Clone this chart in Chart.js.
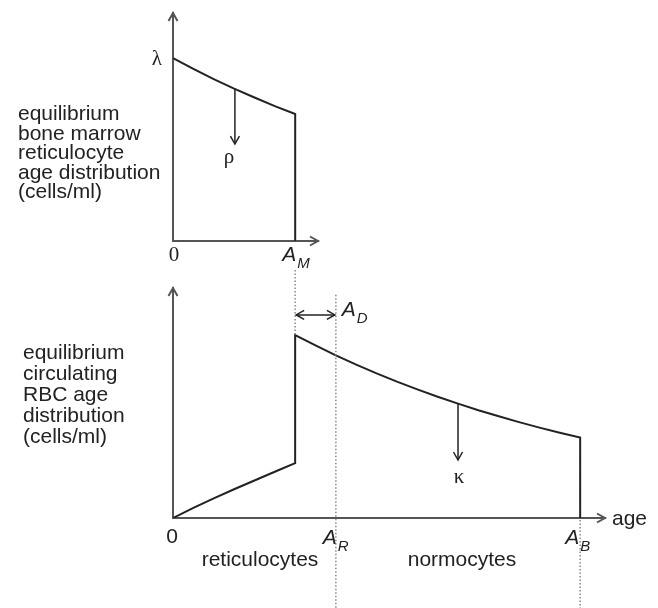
<!DOCTYPE html>
<html>
<head>
<meta charset="utf-8">
<script src="https://cdn.jsdelivr.net/npm/chart.js@4.4.1/dist/chart.umd.min.js"></script>
<style>
  html, body { margin: 0; padding: 0; background: #fff; }
  #wrap { position: relative; width: 658px; height: 608px; }
  #wrap canvas { position: absolute; left: 0; }
</style>
</head>
<body>
<div id="wrap">
  <canvas id="marrow" width="658" height="270" style="top:0px"></canvas>
  <canvas id="circ" width="658" height="338" style="top:270px"></canvas>
</div>
<script>
// ---- data (arbitrary age / density units) ----
const A_M = 3;   // maximal marrow reticulocyte age
const A_D = 1;   // delay
const A_R = 4;   // reticulocyte age limit (A_M + A_D)
const A_B = 10;  // maximal RBC age

const marrowAges    = [0, 0.5, 1, 1.5, 2, 2.5, 3];
const marrowDensity = [1.0, 0.941, 0.885, 0.833, 0.784, 0.737, 0.694];

const retAges    = [0, 0.5, 1, 1.5, 2, 2.5, 3];
const retDensity = [0, 0.055, 0.107, 0.157, 0.205, 0.253, 0.30];

const circAges    = [3, 3.5, 4, 4.5, 5, 5.5, 6, 6.5, 7, 7.5, 8, 8.5, 9, 9.5, 10];
const circDensity = [1.0, 0.943, 0.889, 0.838, 0.790, 0.745, 0.703, 0.663, 0.625, 0.589, 0.556, 0.524, 0.494, 0.466, 0.440];

const topLabelLines = ['equilibrium', 'bone marrow', 'reticulocyte', 'age distribution', '(cells/ml)'];
const botLabelLines = ['equilibrium', 'circulating', 'RBC age', 'distribution', '(cells/ml)'];

const rhoAge = 1.52;
const kappaAge = 7.0;

// ---- styles ----
const SANS = '"Liberation Sans", Arial, Helvetica, sans-serif';
const SERIF = '"Liberation Serif", "Times New Roman", serif';
const INK = '#222';
const AXIS = '#555';
const DOT = '#8a8a8a';

function interp(xs, ys, v) {
  for (let i = 0; i < xs.length - 1; i++) {
    if (v >= xs[i] && v <= xs[i + 1]) {
      const t = (v - xs[i]) / (xs[i + 1] - xs[i]);
      return ys[i] + t * (ys[i + 1] - ys[i]);
    }
  }
  return ys[ys.length - 1];
}

function pts(xs, ys) { return xs.map((x, i) => ({ x, y: ys[i] })); }

// ---- drawing helpers ----
function seg(ctx, x1, y1, x2, y2, color, width, dash) {
  ctx.save();
  ctx.strokeStyle = color; ctx.lineWidth = width;
  ctx.setLineDash(dash || []);
  ctx.beginPath(); ctx.moveTo(x1, y1); ctx.lineTo(x2, y2); ctx.stroke();
  ctx.restore();
}
function head(ctx, tx, ty, dx, dy, color, width) {
  const len = 8, half = 4.5;
  const px = -dy, py = dx;
  ctx.save();
  ctx.strokeStyle = color; ctx.lineWidth = width; ctx.lineJoin = 'miter';
  ctx.beginPath();
  ctx.moveTo(tx - dx * len + px * half, ty - dy * len + py * half);
  ctx.lineTo(tx, ty);
  ctx.lineTo(tx - dx * len - px * half, ty - dy * len - py * half);
  ctx.stroke();
  ctx.restore();
}
function txt(ctx, s, x, y, font, align, base) {
  ctx.save();
  ctx.fillStyle = INK; ctx.font = font;
  ctx.textAlign = align || 'left'; ctx.textBaseline = base || 'alphabetic';
  ctx.fillText(s, x, y);
  ctx.restore();
}
function subLabel(ctx, main, sub, xJoin, yMid) {
  txt(ctx, main, xJoin, yMid, 'italic 21px ' + SANS, 'right', 'middle');
  txt(ctx, sub, xJoin + 1, yMid + 9, 'italic 15px ' + SANS, 'left', 'middle');
}
function axisHeads(chart) {
  const a = chart.chartArea, ctx = chart.ctx;
  head(ctx, a.left, a.top, 0, -1, AXIS, 2);
  head(ctx, a.right, a.bottom, 1, 0, AXIS, 2);
}

function baseOptions(xmax, ymax, pad) {
  const axisCommon = {
    type: 'linear', min: 0,
    ticks: { display: false },
    grid: { display: false, drawTicks: false },
    border: { display: true, color: AXIS, width: 2 }
  };
  return {
    responsive: false, animation: false, events: [],
    layout: { padding: pad },
    plugins: { legend: { display: false }, tooltip: { enabled: false } },
    scales: {
      x: Object.assign({}, axisCommon, { max: xmax }),
      y: Object.assign({}, axisCommon, { max: ymax })
    }
  };
}

// ---- top chart: bone marrow reticulocytes ----
new Chart(document.getElementById('marrow'), {
  type: 'line',
  data: {
    datasets: [{
      data: pts(marrowAges, marrowDensity).concat([{ x: A_M, y: 0 }]),
      borderColor: INK, borderWidth: 2, pointRadius: 0, tension: 0, fill: false
    }]
  },
  options: baseOptions(3.56, 1.246, { left: 173, right: 340, top: 13, bottom: 29 }),
  plugins: [{
    id: 'marrowNotes',
    afterDraw(chart) {
      const ctx = chart.ctx, xs = chart.scales.x, ys = chart.scales.y;
      const X = v => xs.getPixelForValue(v), Y = v => ys.getPixelForValue(v);
      axisHeads(chart);
      // lambda
      txt(ctx, 'λ', X(0) - 11, Y(marrowDensity[0]) + 1, '21px ' + SERIF, 'right', 'middle');
      // rho arrow
      const r0 = interp(marrowAges, marrowDensity, rhoAge);
      seg(ctx, X(rhoAge), Y(r0), X(rhoAge), Y(0.53), INK, 1.5);
      head(ctx, X(rhoAge), Y(0.53), 0, 1, INK, 1.5);
      txt(ctx, 'ρ', X(rhoAge) - 6, Y(0.455), '21px ' + SERIF, 'center', 'middle');
      // axis labels
      txt(ctx, '0', X(0) + 1, Y(0) + 14, '21px ' + SERIF, 'center', 'middle');
      subLabel(ctx, 'A', 'M', X(A_M) + 1, Y(0) + 14);
      // left description
      topLabelLines.forEach((s, i) => txt(ctx, s, 18, 120 + i * 19.6, '21px ' + SANS, 'left', 'alphabetic'));
    }
  }]
});

// ---- bottom chart: circulating RBCs ----
new Chart(document.getElementById('circ'), {
  type: 'line',
  data: {
    datasets: [{
      data: pts(retAges, retDensity).concat(pts(circAges, circDensity)).concat([{ x: A_B, y: 0 }]),
      borderColor: INK, borderWidth: 2, pointRadius: 0, tension: 0, fill: false
    }]
  },
  options: baseOptions(10.61, 1.257, { left: 173, right: 53, top: 18, bottom: 90 }),
  plugins: [{
    id: 'circNotes',
    afterDraw(chart) {
      const ctx = chart.ctx, xs = chart.scales.x, ys = chart.scales.y;
      const X = v => xs.getPixelForValue(v), Y = v => ys.getPixelForValue(v);
      const H = chart.height;
      axisHeads(chart);
      // dotted guides
      seg(ctx, X(A_M), 0, X(A_M), Y(circDensity[0]), DOT, 1.5, [1.5, 2]);
      seg(ctx, X(A_R), Y(1.22), X(A_R), H, DOT, 1.5, [1.5, 2]);
      seg(ctx, X(A_B), Y(0) + 2, X(A_B), H, DOT, 1.5, [1.5, 2]);
      // A_D double arrow
      const yd = Y(1.11);
      seg(ctx, X(A_M) + 1, yd, X(A_R) - 1, yd, INK, 1.5);
      head(ctx, X(A_M) + 1, yd, -1, 0, INK, 1.5);
      head(ctx, X(A_R) - 1, yd, 1, 0, INK, 1.5);
      subLabel(ctx, 'A', 'D', X(A_R) + 20, yd - 5);
      // kappa arrow
      const k0 = interp(circAges, circDensity, kappaAge);
      seg(ctx, X(kappaAge), Y(k0), X(kappaAge), Y(0.317), INK, 1.5);
      head(ctx, X(kappaAge), Y(0.317), 0, 1, INK, 1.5);
      txt(ctx, 'κ', X(kappaAge) + 1, Y(0.219), '21px ' + SERIF, 'center', 'middle');
      // axis labels
      txt(ctx, '0', X(0) - 1, Y(0) + 19, '21px ' + SANS, 'center', 'middle');
      subLabel(ctx, 'A', 'R', X(A_R) + 1, Y(0) + 20);
      subLabel(ctx, 'A', 'B', X(A_B) - 1, Y(0) + 20);
      txt(ctx, 'age', xs.right + 7, Y(0) + 7, '21px ' + SANS, 'left', 'alphabetic');
      txt(ctx, 'reticulocytes', 260, Y(0) + 48, '21px ' + SANS, 'center', 'alphabetic');
      txt(ctx, 'normocytes', 462, Y(0) + 48, '21px ' + SANS, 'center', 'alphabetic');
      // left description
      botLabelLines.forEach((s, i) => txt(ctx, s, 23, 89 + i * 21, '21px ' + SANS, 'left', 'alphabetic'));
    }
  }]
});
</script>
</body>
</html>
